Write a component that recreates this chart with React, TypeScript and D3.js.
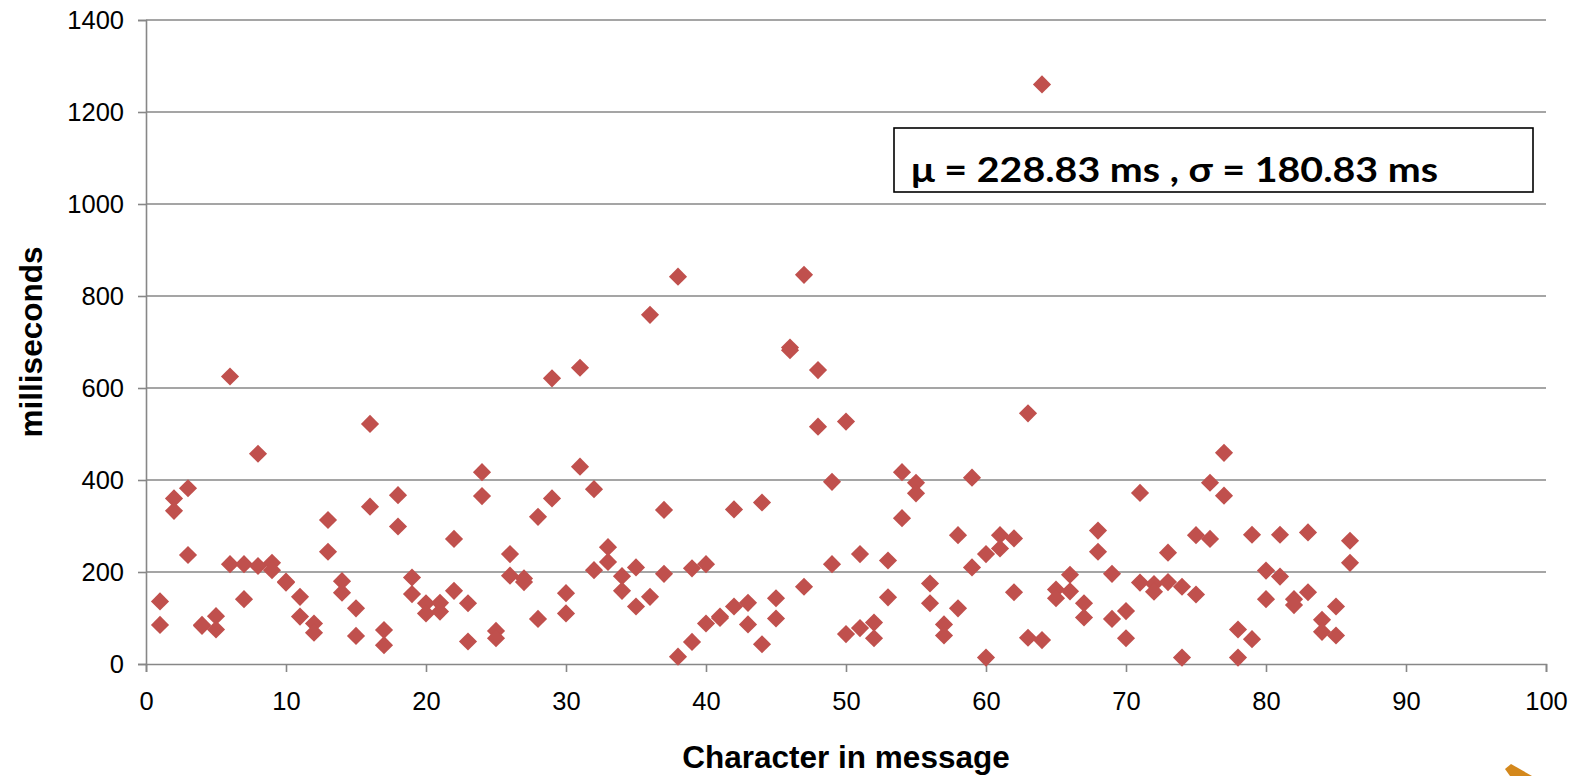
import React, { useEffect, useRef } from 'react';
import * as d3 from 'd3';

// character position in the message (x)
const charIndex = [
  1, 2, 3, 4, 5, 6, 7, 8, 9, 10, 11, 12, 13, 14, 15, 16, 17, 18, 19, 20,
  21, 22, 23, 24, 25, 26, 27, 28, 29, 30, 31, 32, 33, 34, 35, 36, 37, 38, 39, 40,
  41, 42, 43, 44, 45, 46, 47, 48, 49, 50, 51, 52, 53, 54, 55, 56, 57, 58, 59, 60,
  61, 62, 63, 64, 65, 66, 67, 68, 69, 70, 71, 72, 73, 74, 75, 76, 77, 78, 79, 80,
  81, 82, 83, 84, 85, 86,
];

// two timing samples per character, ms
const firstRun = [
  136, 360, 382, 85, 104, 625, 217, 457, 220, 179, 146, 88, 313, 180, 121, 522, 74, 367, 188, 132,
  133, 272, 132, 417, 72, 239, 186, 320, 621, 154, 644, 380, 254, 191, 210, 759, 335, 842, 208, 217,
  103, 336, 133, 351, 143, 688, 846, 639, 396, 527, 239, 90, 225, 417, 394, 175, 86, 280, 405, 239,
  280, 273, 545, 1260, 162, 194, 132, 290, 196, 115, 372, 174, 242, 168, 280, 394, 459, 75, 281, 203,
  281, 141, 286, 96, 125, 268,
];
const secondRun = [
  85, 333, 237, 83, 75, 217, 141, 213, 204, 177, 103, 68, 244, 155, 61, 342, 41, 299, 152, 110,
  114, 159, 49, 365, 56, 192, 178, 98, 360, 110, 429, 204, 222, 159, 125, 146, 196, 16, 48, 88,
  100, 125, 86, 43, 99, 682, 168, 516, 217, 65, 78, 56, 145, 317, 371, 132, 62, 121, 210, 14,
  251, 156, 57, 52, 143, 158, 101, 244, 98, 56, 177, 157, 178, 14, 151, 272, 366, 14, 54, 141,
  190, 128, 156, 70, 62, 220,
];

const xTicks = [0, 10, 20, 30, 40, 50, 60, 70, 80, 90, 100];
const yTicks = [0, 200, 400, 600, 800, 1000, 1200, 1400];
const statsLabel = 'μ = 228.83 ms , σ = 180.83 ms';

const W = 1579;
const H = 776;
const GRID = '#878787';
const MARKER = '#C0504D';
const FONT = '"Liberation Sans", Arial, sans-serif';

const App = () => {
  const svgRef = useRef(null);

  useEffect(() => {
    const svg = d3.select(svgRef.current);
    svg.selectAll('*').remove();

    const x = d3.scaleLinear().domain([0, 100]).range([146, 1546]);
    const y = d3.scaleLinear().domain([0, 1400]).range([664, 20]);

    // horizontal gridlines
    svg.append('g')
      .selectAll('line')
      .data(yTicks.filter(t => t > 0))
      .enter()
      .append('line')
      .attr('x1', x(0))
      .attr('x2', x(100))
      .attr('y1', d => y(d))
      .attr('y2', d => y(d))
      .attr('stroke', GRID)
      .attr('stroke-width', 1.6);

    // y axis
    const yAxis = svg.append('g')
      .attr('transform', `translate(${x(0)},0)`)
      .call(d3.axisLeft(y).tickValues(yTicks).tickSize(8).tickPadding(14).tickFormat(d3.format('d')));
    yAxis.select('.domain').attr('stroke', GRID).attr('stroke-width', 1.6);
    yAxis.selectAll('.tick line').attr('stroke', GRID).attr('stroke-width', 1.6);
    yAxis.selectAll('.tick text')
      .attr('fill', '#000')
      .style('font-family', FONT)
      .style('font-size', '25.5px');

    // x axis
    const xAxis = svg.append('g')
      .attr('transform', `translate(0,${y(0)})`)
      .call(d3.axisBottom(x).tickValues(xTicks).tickSize(8).tickPadding(20).tickFormat(d3.format('d')));
    xAxis.select('.domain').attr('stroke', GRID).attr('stroke-width', 1.6);
    xAxis.selectAll('.tick line').attr('stroke', GRID).attr('stroke-width', 1.6);
    xAxis.selectAll('.tick text')
      .attr('fill', '#000')
      .style('font-family', FONT)
      .style('font-size', '25.5px');

    // points
    const points = charIndex.flatMap((c, i) => [
      { c, v: firstRun[i] },
      { c, v: secondRun[i] },
    ]);
    const diamond = d3.symbol().type(d3.symbolSquare).size(165);
    svg.append('g')
      .selectAll('path')
      .data(points)
      .enter()
      .append('path')
      .attr('d', diamond)
      .attr('transform', d => `translate(${x(d.c)},${y(d.v)}) rotate(45)`)
      .attr('fill', MARKER);

    // axis titles
    svg.append('text')
      .attr('x', 846)
      .attr('y', 768)
      .attr('text-anchor', 'middle')
      .style('font-family', FONT)
      .style('font-size', '31.5px')
      .style('font-weight', 'bold')
      .text('Character in message');

    svg.append('text')
      .attr('transform', `translate(42,342) rotate(-90)`)
      .attr('text-anchor', 'middle')
      .style('font-family', FONT)
      .style('font-size', '31.5px')
      .style('font-weight', 'bold')
      .text('milliseconds');

    // stats box
    svg.append('rect')
      .attr('x', 894)
      .attr('y', 128)
      .attr('width', 639)
      .attr('height', 64)
      .attr('fill', '#fff')
      .attr('stroke', '#000')
      .attr('stroke-width', 1.6);

    svg.append('text')
      .attr('x', 911)
      .attr('y', 182)
      .attr('textLength', 527)
      .attr('lengthAdjust', 'spacingAndGlyphs')
      .style('font-family', 'Lato, "Open Sans", sans-serif')
      .style('font-size', '34px')
      .style('font-weight', 'bold')
      .text(statsLabel);

    // small orange corner mark
    svg.append('path')
      .attr('d', 'M1505,769 L1511,764 L1532,776 L1510,776 Z')
      .attr('fill', '#D4881C');
  }, []);

  return (
    <div style={{ position: 'absolute', left: 0, top: 0, width: W, height: H, background: '#fff' }}>
      <svg ref={svgRef} width={W} height={H} style={{ display: 'block' }}></svg>
    </div>
  );
};

export default App;
